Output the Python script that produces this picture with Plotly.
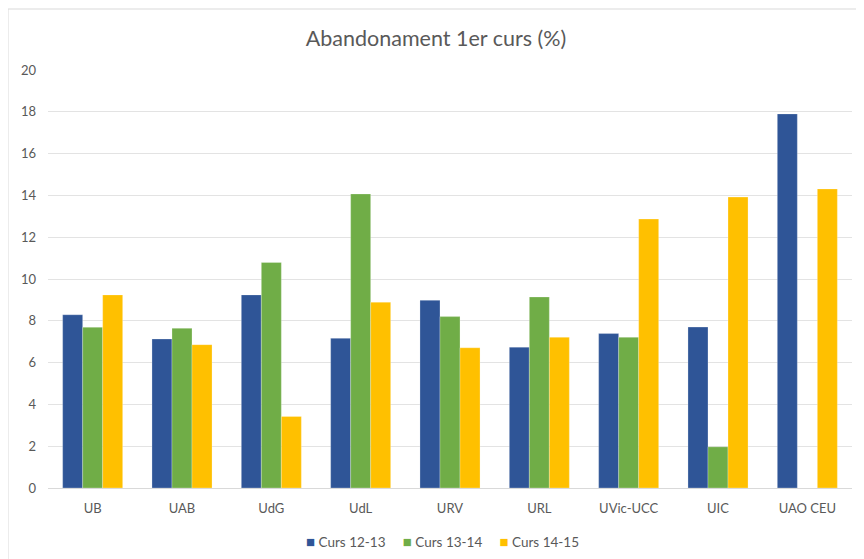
import plotly.graph_objects as go

categories = ["UB", "UAB", "UdG", "UdL", "URV", "URL", "UVic-UCC", "UIC", "UAO CEU"]
curs_12_13 = [8.29, 7.13, 9.24, 7.16, 8.98, 6.74, 7.39, 7.70, 17.90]
curs_13_14 = [7.69, 7.64, 10.79, 14.07, 8.20, 9.14, 7.21, 1.97, None]
curs_14_15 = [9.24, 6.86, 3.42, 8.89, 6.71, 7.21, 12.87, 13.92, 14.31]
y_ticks = [0, 2, 4, 6, 8, 10, 12, 14, 16, 18, 20]

series = [
    ("Curs 12-13", curs_12_13, "#2F5597"),
    ("Curs 13-14", curs_13_14, "#70AD47"),
    ("Curs 14-15", curs_14_15, "#FFC000"),
]

fig = go.Figure()
for name, vals, color in series:
    fig.add_trace(go.Bar(
        x=categories, y=vals, name=name,
        marker=dict(color=color, line=dict(color="rgba(255,255,255,0.5)", width=0.5)),
    ))

# page body has an 8px default margin; the figure is sized/positioned to compensate
OFF = 8
W, H = 864 - OFF, 559 - OFF
PL, PT = 48 - OFF, 70 - OFF
PR = W - (852 - OFF)
PB = H - (488 - OFF)
pw, ph = W - PL - PR, H - PT - PB

FONT = "Lato, Open Sans, Liberation Sans, sans-serif"

# compact legend (Excel style: small square swatch right next to its label)
NB = "\u00a0"
legend_text = (NB * 5).join(
    f"<span style='color:{c};font-size:15px'>■</span>{NB}{n}" for n, _, c in series
)

fig.update_layout(
    width=W, height=H,
    margin=dict(l=PL, r=PR, t=PT, b=PB, autoexpand=False),
    paper_bgcolor="white", plot_bgcolor="white",
    barmode="group", bargap=0.328, bargroupgap=0,
    font=dict(family=FONT, color="#595959", size=13),
    title=dict(text="Abandonament 1er curs (%)", x=0.5, xanchor="center",
               y=1 - (38 - OFF) / H, yanchor="middle",
               font=dict(size=21.5, color="#595959", family=FONT)),
    showlegend=False,
    annotations=[dict(
        text=legend_text, xref="paper", yref="paper",
        x=(442 - 48) / (852 - 48), y=-(541 - 488) / ph,
        xanchor="center", yanchor="middle", showarrow=False,
        font=dict(size=13.5, color="#595959", family=FONT),
    )],
)
fig.update_xaxes(showgrid=False, showline=True, linecolor="#D9D9D9", linewidth=1,
                 tickfont=dict(size=13, color="#595959"), ticks="", ticklen=0,
                 ticklabelstandoff=8)
fig.update_yaxes(range=[0, 20], tickvals=y_ticks, showgrid=True, gridcolor="#E3E3E3",
                 gridwidth=1, zeroline=False, showline=False,
                 tickfont=dict(size=13, color="#595959"), ticks="", ticklabelstandoff=11)

fig.add_shape(type="rect", xref="paper", yref="paper",
              x0=(8 - 48) / pw, x1=(875 - 48) / pw,
              y0=-(575 - 488) / ph, y1=(488 - 9) / ph,
              line=dict(color="#D9D9D9", width=1), fillcolor="rgba(0,0,0,0)", layer="below")

fig.write_html("out.html")
